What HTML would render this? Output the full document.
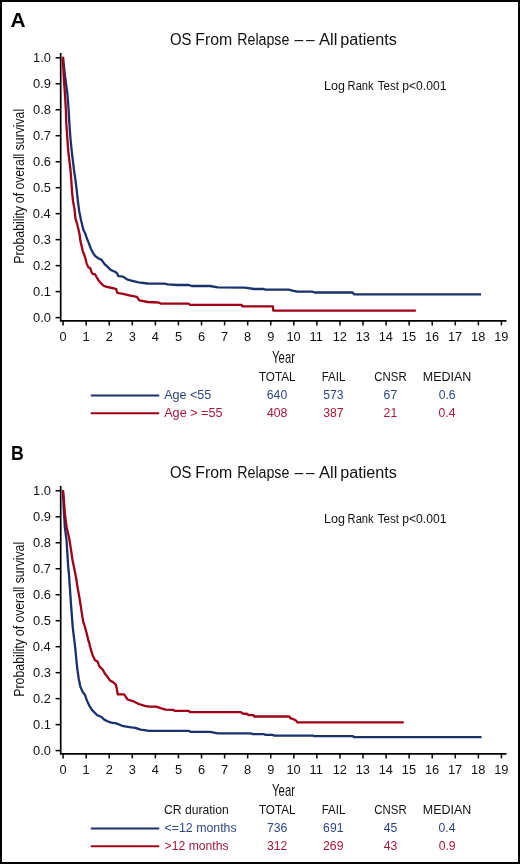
<!DOCTYPE html>
<html><head><meta charset="utf-8"><style>
html,body{margin:0;padding:0;background:#fff;}
svg{display:block;}
text{font-family:"Liberation Sans", sans-serif;}
</style></head><body>
<svg style="will-change:transform" width="520" height="864" viewBox="0 0 520 864">
<rect x="0" y="0" width="520" height="864" fill="#fff"/>
<rect x="1" y="1" width="518" height="862" fill="none" stroke="#000" stroke-width="2"/>
<text x="10.58" y="26.90" font-size="20" font-weight="bold" fill="#000" textLength="15.07" lengthAdjust="spacingAndGlyphs">A</text>
<text x="11.02" y="459.70" font-size="20" font-weight="bold" fill="#000" textLength="12.79" lengthAdjust="spacingAndGlyphs">B</text>
<text x="170.00" y="44.60" font-size="16" fill="#111" textLength="21.49" lengthAdjust="spacingAndGlyphs">OS</text>
<text x="195.20" y="44.60" font-size="16" fill="#111" textLength="37.05" lengthAdjust="spacingAndGlyphs">From</text>
<text x="237.24" y="44.60" font-size="16" fill="#111" textLength="52.10" lengthAdjust="spacingAndGlyphs">Relapse</text>
<text x="294.40" y="44.60" font-size="16" fill="#111" textLength="8.71" lengthAdjust="spacingAndGlyphs">–</text>
<text x="306.00" y="44.60" font-size="16" fill="#111" textLength="8.61" lengthAdjust="spacingAndGlyphs">–</text>
<text x="318.97" y="44.60" font-size="16" fill="#111" textLength="18.34" lengthAdjust="spacingAndGlyphs">All</text>
<text x="340.16" y="44.60" font-size="16" fill="#111" textLength="56.63" lengthAdjust="spacingAndGlyphs">patients</text>
<text x="324.07" y="90.00" font-size="12" fill="#111" textLength="20.94" lengthAdjust="spacingAndGlyphs">Log</text>
<text x="347.58" y="90.00" font-size="12" fill="#111" textLength="26.10" lengthAdjust="spacingAndGlyphs">Rank</text>
<text x="377.76" y="90.00" font-size="12" fill="#111" textLength="21.12" lengthAdjust="spacingAndGlyphs">Test</text>
<text x="402.32" y="90.00" font-size="12" fill="#111" textLength="44.07" lengthAdjust="spacingAndGlyphs">p&lt;0.001</text>
<path d="M60.7,53.0 V321.7 M59.9,320.8 H506.5" stroke="#000" stroke-width="1.7" fill="none"/>
<path d="M55.6,317.60 H60.7" stroke="#000" stroke-width="1.5"/>
<text x="32.97" y="321.60" font-size="12.9" fill="#111">0.0</text>
<path d="M55.6,291.62 H60.7" stroke="#000" stroke-width="1.5"/>
<text x="33.10" y="295.62" font-size="12.9" fill="#111">0.1</text>
<path d="M55.6,265.64 H60.7" stroke="#000" stroke-width="1.5"/>
<text x="33.12" y="269.64" font-size="12.9" fill="#111">0.2</text>
<path d="M55.6,239.66 H60.7" stroke="#000" stroke-width="1.5"/>
<text x="33.03" y="243.66" font-size="12.9" fill="#111">0.3</text>
<path d="M55.6,213.68 H60.7" stroke="#000" stroke-width="1.5"/>
<text x="32.85" y="217.68" font-size="12.9" fill="#111">0.4</text>
<path d="M55.6,187.70 H60.7" stroke="#000" stroke-width="1.5"/>
<text x="33.01" y="191.70" font-size="12.9" fill="#111">0.5</text>
<path d="M55.6,161.72 H60.7" stroke="#000" stroke-width="1.5"/>
<text x="33.03" y="165.72" font-size="12.9" fill="#111">0.6</text>
<path d="M55.6,135.74 H60.7" stroke="#000" stroke-width="1.5"/>
<text x="33.12" y="139.74" font-size="12.9" fill="#111">0.7</text>
<path d="M55.6,109.76 H60.7" stroke="#000" stroke-width="1.5"/>
<text x="33.03" y="113.76" font-size="12.9" fill="#111">0.8</text>
<path d="M55.6,83.78 H60.7" stroke="#000" stroke-width="1.5"/>
<text x="33.08" y="87.78" font-size="12.9" fill="#111">0.9</text>
<path d="M55.6,57.80 H60.7" stroke="#000" stroke-width="1.5"/>
<text x="32.97" y="61.80" font-size="12.9" fill="#111">1.0</text>
<path d="M63.10,320.8 V325.4" stroke="#000" stroke-width="1.5"/>
<text x="59.54" y="341.30" font-size="12.8" fill="#111">0</text>
<path d="M86.17,320.8 V325.4" stroke="#000" stroke-width="1.5"/>
<text x="82.44" y="341.30" font-size="12.8" fill="#111">1</text>
<path d="M109.24,320.8 V325.4" stroke="#000" stroke-width="1.5"/>
<text x="105.68" y="341.30" font-size="12.8" fill="#111">2</text>
<path d="M132.31,320.8 V325.4" stroke="#000" stroke-width="1.5"/>
<text x="128.79" y="341.30" font-size="12.8" fill="#111">3</text>
<path d="M155.38,320.8 V325.4" stroke="#000" stroke-width="1.5"/>
<text x="151.86" y="341.30" font-size="12.8" fill="#111">4</text>
<path d="M178.45,320.8 V325.4" stroke="#000" stroke-width="1.5"/>
<text x="174.90" y="341.30" font-size="12.8" fill="#111">5</text>
<path d="M201.52,320.8 V325.4" stroke="#000" stroke-width="1.5"/>
<text x="197.92" y="341.30" font-size="12.8" fill="#111">6</text>
<path d="M224.59,320.8 V325.4" stroke="#000" stroke-width="1.5"/>
<text x="221.02" y="341.30" font-size="12.8" fill="#111">7</text>
<path d="M247.66,320.8 V325.4" stroke="#000" stroke-width="1.5"/>
<text x="244.10" y="341.30" font-size="12.8" fill="#111">8</text>
<path d="M270.73,320.8 V325.4" stroke="#000" stroke-width="1.5"/>
<text x="267.17" y="341.30" font-size="12.8" fill="#111">9</text>
<path d="M293.80,320.8 V325.4" stroke="#000" stroke-width="1.5"/>
<text x="286.44" y="341.30" font-size="12.8" fill="#111">10</text>
<path d="M316.87,320.8 V325.4" stroke="#000" stroke-width="1.5"/>
<text x="309.58" y="341.30" font-size="12.8" fill="#111">11</text>
<path d="M339.94,320.8 V325.4" stroke="#000" stroke-width="1.5"/>
<text x="332.66" y="341.30" font-size="12.8" fill="#111">12</text>
<path d="M363.01,320.8 V325.4" stroke="#000" stroke-width="1.5"/>
<text x="355.69" y="341.30" font-size="12.8" fill="#111">13</text>
<path d="M386.08,320.8 V325.4" stroke="#000" stroke-width="1.5"/>
<text x="378.66" y="341.30" font-size="12.8" fill="#111">14</text>
<path d="M409.15,320.8 V325.4" stroke="#000" stroke-width="1.5"/>
<text x="401.81" y="341.30" font-size="12.8" fill="#111">15</text>
<path d="M432.22,320.8 V325.4" stroke="#000" stroke-width="1.5"/>
<text x="424.90" y="341.30" font-size="12.8" fill="#111">16</text>
<path d="M455.29,320.8 V325.4" stroke="#000" stroke-width="1.5"/>
<text x="448.01" y="341.30" font-size="12.8" fill="#111">17</text>
<path d="M478.36,320.8 V325.4" stroke="#000" stroke-width="1.5"/>
<text x="471.03" y="341.30" font-size="12.8" fill="#111">18</text>
<path d="M501.43,320.8 V325.4" stroke="#000" stroke-width="1.5"/>
<text x="494.13" y="341.30" font-size="12.8" fill="#111">19</text>
<g transform="rotate(-90)">
<text x="-263.81" y="24.20" font-size="15.5" fill="#111" textLength="57.64" lengthAdjust="spacingAndGlyphs">Probability</text>
<text x="-203.33" y="24.20" font-size="15.5" fill="#111" textLength="10.51" lengthAdjust="spacingAndGlyphs">of</text>
<text x="-189.61" y="24.20" font-size="15.5" fill="#111" textLength="35.93" lengthAdjust="spacingAndGlyphs">overall</text>
<text x="-150.24" y="24.20" font-size="15.5" fill="#111" textLength="41.36" lengthAdjust="spacingAndGlyphs">survival</text>
</g>
<text x="272.06" y="362.70" font-size="15.7" fill="#111" textLength="22.92" lengthAdjust="spacingAndGlyphs">Year</text>
<text x="258.94" y="381.30" font-size="12.7" fill="#111" textLength="36.63" lengthAdjust="spacingAndGlyphs">TOTAL</text>
<text x="321.68" y="381.30" font-size="12.7" fill="#111" textLength="23.69" lengthAdjust="spacingAndGlyphs">FAIL</text>
<text x="374.32" y="381.30" font-size="12.7" fill="#111" textLength="32.31" lengthAdjust="spacingAndGlyphs">CNSR</text>
<text x="422.78" y="381.30" font-size="12.7" fill="#111" textLength="48.54" lengthAdjust="spacingAndGlyphs">MEDIAN</text>
<path d="M90.8,395.5 H159.2" stroke="#19326c" stroke-width="2"/>
<path d="M90.8,413.3 H159.2" stroke="#a00016" stroke-width="2"/>
<text x="170.00" y="477.60" font-size="16" fill="#111" textLength="21.49" lengthAdjust="spacingAndGlyphs">OS</text>
<text x="195.20" y="477.60" font-size="16" fill="#111" textLength="37.05" lengthAdjust="spacingAndGlyphs">From</text>
<text x="237.24" y="477.60" font-size="16" fill="#111" textLength="52.10" lengthAdjust="spacingAndGlyphs">Relapse</text>
<text x="294.40" y="477.60" font-size="16" fill="#111" textLength="8.71" lengthAdjust="spacingAndGlyphs">–</text>
<text x="306.00" y="477.60" font-size="16" fill="#111" textLength="8.61" lengthAdjust="spacingAndGlyphs">–</text>
<text x="318.97" y="477.60" font-size="16" fill="#111" textLength="18.34" lengthAdjust="spacingAndGlyphs">All</text>
<text x="340.16" y="477.60" font-size="16" fill="#111" textLength="56.63" lengthAdjust="spacingAndGlyphs">patients</text>
<text x="324.07" y="523.00" font-size="12" fill="#111" textLength="20.94" lengthAdjust="spacingAndGlyphs">Log</text>
<text x="347.58" y="523.00" font-size="12" fill="#111" textLength="26.10" lengthAdjust="spacingAndGlyphs">Rank</text>
<text x="377.76" y="523.00" font-size="12" fill="#111" textLength="21.12" lengthAdjust="spacingAndGlyphs">Test</text>
<text x="402.32" y="523.00" font-size="12" fill="#111" textLength="44.07" lengthAdjust="spacingAndGlyphs">p&lt;0.001</text>
<path d="M60.7,486.0 V754.7 M59.9,753.8 H506.5" stroke="#000" stroke-width="1.7" fill="none"/>
<path d="M55.6,750.60 H60.7" stroke="#000" stroke-width="1.5"/>
<text x="32.97" y="754.60" font-size="12.9" fill="#111">0.0</text>
<path d="M55.6,724.62 H60.7" stroke="#000" stroke-width="1.5"/>
<text x="33.10" y="728.62" font-size="12.9" fill="#111">0.1</text>
<path d="M55.6,698.64 H60.7" stroke="#000" stroke-width="1.5"/>
<text x="33.12" y="702.64" font-size="12.9" fill="#111">0.2</text>
<path d="M55.6,672.66 H60.7" stroke="#000" stroke-width="1.5"/>
<text x="33.03" y="676.66" font-size="12.9" fill="#111">0.3</text>
<path d="M55.6,646.68 H60.7" stroke="#000" stroke-width="1.5"/>
<text x="32.85" y="650.68" font-size="12.9" fill="#111">0.4</text>
<path d="M55.6,620.70 H60.7" stroke="#000" stroke-width="1.5"/>
<text x="33.01" y="624.70" font-size="12.9" fill="#111">0.5</text>
<path d="M55.6,594.72 H60.7" stroke="#000" stroke-width="1.5"/>
<text x="33.03" y="598.72" font-size="12.9" fill="#111">0.6</text>
<path d="M55.6,568.74 H60.7" stroke="#000" stroke-width="1.5"/>
<text x="33.12" y="572.74" font-size="12.9" fill="#111">0.7</text>
<path d="M55.6,542.76 H60.7" stroke="#000" stroke-width="1.5"/>
<text x="33.03" y="546.76" font-size="12.9" fill="#111">0.8</text>
<path d="M55.6,516.78 H60.7" stroke="#000" stroke-width="1.5"/>
<text x="33.08" y="520.78" font-size="12.9" fill="#111">0.9</text>
<path d="M55.6,490.80 H60.7" stroke="#000" stroke-width="1.5"/>
<text x="32.97" y="494.80" font-size="12.9" fill="#111">1.0</text>
<path d="M63.10,753.8 V758.4" stroke="#000" stroke-width="1.5"/>
<text x="59.54" y="774.30" font-size="12.8" fill="#111">0</text>
<path d="M86.17,753.8 V758.4" stroke="#000" stroke-width="1.5"/>
<text x="82.44" y="774.30" font-size="12.8" fill="#111">1</text>
<path d="M109.24,753.8 V758.4" stroke="#000" stroke-width="1.5"/>
<text x="105.68" y="774.30" font-size="12.8" fill="#111">2</text>
<path d="M132.31,753.8 V758.4" stroke="#000" stroke-width="1.5"/>
<text x="128.79" y="774.30" font-size="12.8" fill="#111">3</text>
<path d="M155.38,753.8 V758.4" stroke="#000" stroke-width="1.5"/>
<text x="151.86" y="774.30" font-size="12.8" fill="#111">4</text>
<path d="M178.45,753.8 V758.4" stroke="#000" stroke-width="1.5"/>
<text x="174.90" y="774.30" font-size="12.8" fill="#111">5</text>
<path d="M201.52,753.8 V758.4" stroke="#000" stroke-width="1.5"/>
<text x="197.92" y="774.30" font-size="12.8" fill="#111">6</text>
<path d="M224.59,753.8 V758.4" stroke="#000" stroke-width="1.5"/>
<text x="221.02" y="774.30" font-size="12.8" fill="#111">7</text>
<path d="M247.66,753.8 V758.4" stroke="#000" stroke-width="1.5"/>
<text x="244.10" y="774.30" font-size="12.8" fill="#111">8</text>
<path d="M270.73,753.8 V758.4" stroke="#000" stroke-width="1.5"/>
<text x="267.17" y="774.30" font-size="12.8" fill="#111">9</text>
<path d="M293.80,753.8 V758.4" stroke="#000" stroke-width="1.5"/>
<text x="286.44" y="774.30" font-size="12.8" fill="#111">10</text>
<path d="M316.87,753.8 V758.4" stroke="#000" stroke-width="1.5"/>
<text x="309.58" y="774.30" font-size="12.8" fill="#111">11</text>
<path d="M339.94,753.8 V758.4" stroke="#000" stroke-width="1.5"/>
<text x="332.66" y="774.30" font-size="12.8" fill="#111">12</text>
<path d="M363.01,753.8 V758.4" stroke="#000" stroke-width="1.5"/>
<text x="355.69" y="774.30" font-size="12.8" fill="#111">13</text>
<path d="M386.08,753.8 V758.4" stroke="#000" stroke-width="1.5"/>
<text x="378.66" y="774.30" font-size="12.8" fill="#111">14</text>
<path d="M409.15,753.8 V758.4" stroke="#000" stroke-width="1.5"/>
<text x="401.81" y="774.30" font-size="12.8" fill="#111">15</text>
<path d="M432.22,753.8 V758.4" stroke="#000" stroke-width="1.5"/>
<text x="424.90" y="774.30" font-size="12.8" fill="#111">16</text>
<path d="M455.29,753.8 V758.4" stroke="#000" stroke-width="1.5"/>
<text x="448.01" y="774.30" font-size="12.8" fill="#111">17</text>
<path d="M478.36,753.8 V758.4" stroke="#000" stroke-width="1.5"/>
<text x="471.03" y="774.30" font-size="12.8" fill="#111">18</text>
<path d="M501.43,753.8 V758.4" stroke="#000" stroke-width="1.5"/>
<text x="494.13" y="774.30" font-size="12.8" fill="#111">19</text>
<g transform="rotate(-90)">
<text x="-696.81" y="24.20" font-size="15.5" fill="#111" textLength="57.64" lengthAdjust="spacingAndGlyphs">Probability</text>
<text x="-636.33" y="24.20" font-size="15.5" fill="#111" textLength="10.51" lengthAdjust="spacingAndGlyphs">of</text>
<text x="-622.61" y="24.20" font-size="15.5" fill="#111" textLength="35.93" lengthAdjust="spacingAndGlyphs">overall</text>
<text x="-583.24" y="24.20" font-size="15.5" fill="#111" textLength="41.36" lengthAdjust="spacingAndGlyphs">survival</text>
</g>
<text x="272.06" y="795.70" font-size="15.7" fill="#111" textLength="22.92" lengthAdjust="spacingAndGlyphs">Year</text>
<text x="258.94" y="814.30" font-size="12.7" fill="#111" textLength="36.63" lengthAdjust="spacingAndGlyphs">TOTAL</text>
<text x="321.68" y="814.30" font-size="12.7" fill="#111" textLength="23.69" lengthAdjust="spacingAndGlyphs">FAIL</text>
<text x="374.32" y="814.30" font-size="12.7" fill="#111" textLength="32.31" lengthAdjust="spacingAndGlyphs">CNSR</text>
<text x="422.78" y="814.30" font-size="12.7" fill="#111" textLength="48.54" lengthAdjust="spacingAndGlyphs">MEDIAN</text>
<path d="M90.8,828.5 H159.2" stroke="#19326c" stroke-width="2"/>
<path d="M90.8,846.3 H159.2" stroke="#a00016" stroke-width="2"/>
<text x="164.18" y="398.80" font-size="12.2" fill="#2c4682" textLength="47.15" lengthAdjust="spacingAndGlyphs">Age &lt;55</text>
<text x="164.18" y="416.60" font-size="12.2" fill="#a8183a" textLength="58.36" lengthAdjust="spacingAndGlyphs">Age &gt; =55</text>
<text x="164.09" y="814.30" font-size="12.2" fill="#111" textLength="64.60" lengthAdjust="spacingAndGlyphs">CR duration</text>
<text x="164.59" y="832.30" font-size="12.2" fill="#2c4682" textLength="72.05" lengthAdjust="spacingAndGlyphs">&lt;=12 months</text>
<text x="164.60" y="850.10" font-size="12.2" fill="#a8183a" textLength="64.04" lengthAdjust="spacingAndGlyphs">&gt;12 months</text>
<text x="266.85" y="399.00" font-size="12.2" fill="#2c4682">640</text>
<text x="323.15" y="399.00" font-size="12.2" fill="#2c4682">573</text>
<text x="383.61" y="399.00" font-size="12.2" fill="#2c4682">67</text>
<text x="438.65" y="399.00" font-size="12.2" fill="#2c4682">0.6</text>
<text x="267.05" y="416.80" font-size="12.2" fill="#a8183a">408</text>
<text x="323.20" y="416.80" font-size="12.2" fill="#a8183a">387</text>
<text x="383.61" y="416.80" font-size="12.2" fill="#a8183a">21</text>
<text x="438.56" y="416.80" font-size="12.2" fill="#a8183a">0.4</text>
<text x="266.88" y="832.00" font-size="12.2" fill="#2c4682">736</text>
<text x="323.11" y="832.00" font-size="12.2" fill="#2c4682">691</text>
<text x="383.73" y="832.00" font-size="12.2" fill="#2c4682">45</text>
<text x="438.56" y="832.00" font-size="12.2" fill="#2c4682">0.4</text>
<text x="267.00" y="849.90" font-size="12.2" fill="#a8183a">312</text>
<text x="323.10" y="849.90" font-size="12.2" fill="#a8183a">269</text>
<text x="383.74" y="849.90" font-size="12.2" fill="#a8183a">43</text>
<text x="438.67" y="849.90" font-size="12.2" fill="#a8183a">0.9</text>
<path d="M63.0,58.0 L63.8,65.0 L64.6,72.8 L66.0,83.2 L67.4,93.7 L68.7,111.0 L69.4,123.9 L70.4,137.8 L71.8,151.7 L74.0,170.0 L75.5,180.4 L76.8,190.8 L77.9,201.3 L79.3,211.7 L81.0,220.0 L83.4,230.0 L85.4,233.8 L86.9,238.5 L88.8,243.1 L90.8,248.5 L93.1,253.1 L95.4,256.2 L98.5,258.5 L101.2,259.6 L102.3,260.8 L104.6,264.2 L107.7,266.9 L110.8,270.0 L115.4,272.0 L116.9,273.1 L118.5,276.2 L123.1,276.6 L127.7,279.7 L132.3,280.8 L138.5,282.3 L147.7,283.5 L160.0,283.7 L164.6,283.7 L167.7,284.3 L177.3,285.0 L188.8,285.0 L191.7,286.0 L210.0,286.0 L217.7,287.3 L244.6,287.7 L254.2,289.0 L263.7,289.0 L265.6,289.6 L288.7,289.6 L293.5,290.8 L297.3,291.7 L312.7,291.7 L314.6,292.5 L352.7,292.5 L354.0,294.3 L479.9,294.3" fill="none" stroke="#19326c" stroke-width="2.3" stroke-linejoin="round" stroke-linecap="square"/>
<path d="M63.0,58.0 L63.2,65.9 L63.9,79.8 L64.9,93.7 L65.9,110.5 L66.3,123.9 L67.3,137.8 L68.3,151.7 L70.5,170.0 L71.3,180.4 L72.0,190.8 L73.0,201.3 L74.4,208.2 L75.5,218.6 L77.2,224.2 L78.6,230.0 L79.6,234.6 L80.4,240.8 L81.5,245.4 L82.7,250.8 L84.2,254.6 L85.4,258.5 L86.5,263.1 L88.1,266.9 L90.4,268.5 L91.5,272.3 L93.1,274.2 L95.0,274.2 L96.5,276.9 L98.8,280.8 L100.8,283.1 L103.8,285.8 L106.9,286.9 L110.0,287.5 L113.8,288.3 L116.2,289.0 L117.2,292.8 L123.1,293.8 L129.2,295.4 L136.9,296.9 L139.3,300.3 L147.7,302.0 L158.5,302.5 L161.2,303.7 L188.8,303.7 L189.8,304.8 L241.7,304.8 L242.3,306.4 L272.9,306.4 L273.3,310.7 L414.7,310.7" fill="none" stroke="#a00016" stroke-width="2.3" stroke-linejoin="round" stroke-linecap="square"/>
<path d="M63.0,491.2 L63.8,510.0 L64.9,527.7 L66.5,540.0 L67.4,553.9 L68.0,564.3 L69.0,574.7 L69.7,585.1 L70.7,600.0 L71.7,613.9 L72.8,627.8 L74.5,641.7 L75.4,649.6 L76.3,659.2 L77.3,668.8 L78.7,678.5 L80.2,686.2 L82.6,691.9 L85.0,694.8 L86.9,700.5 L89.5,706.0 L92.1,710.1 L97.3,715.3 L101.6,717.0 L104.2,719.6 L108.0,721.5 L111.2,722.7 L116.3,723.4 L123.3,726.2 L131.2,727.4 L135.4,727.9 L140.6,729.7 L149.2,730.9 L160.0,730.8 L188.8,730.8 L190.8,731.9 L210.0,731.9 L217.7,733.3 L250.4,733.3 L253.3,734.2 L263.7,734.2 L265.6,734.8 L272.3,734.8 L274.2,735.6 L312.7,735.6 L314.6,736.2 L353.1,736.2 L354.0,737.1 L480.4,737.1" fill="none" stroke="#19326c" stroke-width="2.3" stroke-linejoin="round" stroke-linecap="square"/>
<path d="M63.0,491.2 L63.9,499.9 L64.9,513.8 L66.7,527.7 L68.4,534.6 L69.5,540.0 L71.1,550.4 L72.5,560.0 L74.4,569.3 L76.2,578.5 L77.6,587.8 L79.3,597.0 L80.8,606.3 L82.2,615.6 L83.3,622.0 L84.3,624.8 L86.9,634.0 L88.2,640.0 L89.4,643.1 L89.8,645.8 L91.2,650.6 L92.7,655.4 L95.1,660.2 L97.5,661.6 L99.4,666.4 L102.8,669.8 L105.2,674.1 L107.6,677.0 L110.0,680.4 L113.3,682.3 L115.8,684.7 L116.7,688.1 L117.7,694.3 L124.1,694.4 L127.6,699.5 L133.7,701.4 L138.8,704.0 L144.9,705.8 L149.2,706.6 L156.1,706.6 L161.3,708.4 L165.7,709.6 L173.5,709.8 L174.4,710.8 L188.8,710.8 L189.8,712.1 L240.8,712.1 L242.7,713.5 L247.5,714.0 L248.5,715.2 L253.3,715.2 L254.2,716.5 L289.2,716.5 L290.6,718.3 L293.5,719.2 L296.3,720.8 L297.3,722.3 L402.6,722.3" fill="none" stroke="#a00016" stroke-width="2.3" stroke-linejoin="round" stroke-linecap="square"/>
</svg></body></html>
